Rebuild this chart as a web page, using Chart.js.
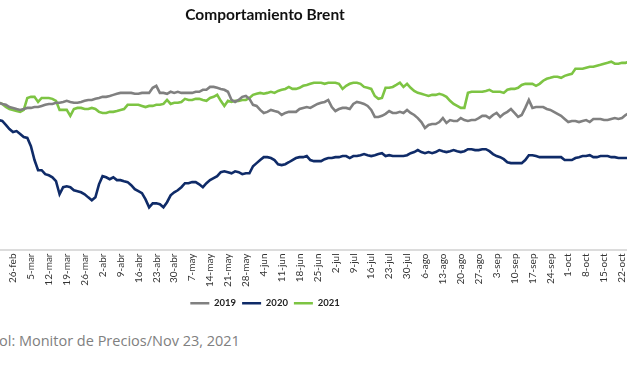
<!DOCTYPE html>
<html>
<head>
<meta charset="utf-8">
<script src="https://cdn.jsdelivr.net/npm/chart.js@4.4.0/dist/chart.umd.min.js"></script>
<style>
  html, body { margin: 0; padding: 0; background: #fff; overflow: hidden; }
  body { width: 627px; height: 376px; position: relative; }
  #wrap { position: absolute; left: -97px; top: 0; width: 724px; height: 318px; }
  #source { position: absolute; left: -1px; top: 331px; font-family: "Open Sans", sans-serif; font-size: 14.5px; color: #808080; white-space: nowrap; }
</style>
</head>
<body>
<div id="wrap"><canvas id="brentChart"></canvas></div>
<div id="source">ol: Monitor de Precios/Nov 23, 2021</div>
<script>
// Weekly tick labels (one every 5 business days)
const weekLabels = ['26-feb','5-mar','12-mar','19-mar','26-mar','2-abr','9-abr','16-abr','23-abr','30-abr',
  '7-may','14-may','21-may','28-may','4-jun','11-jun','18-jun','25-jun','2-jul','9-jul',
  '16-jul','23-jul','30-jul','6-ago','13-ago','20-ago','27-ago','3-sep','10-sep','17-sep',
  '24-sep','1-oct','8-oct','15-oct','22-oct'];

// first value sits 4 business days before 26-feb
const firstDay = -4;
const daysPerWeek = 5;

// Brent, USD/bbl, one value per business day
const brent2019 = [
  66.4,65.9,65.5,64.5,64.1,63.6,63.2,63.6,64.1,64.1,
  64.5,64.5,65.0,65.5,65.9,65.9,66.4,66.4,66.8,67.3,
  66.8,66.4,66.4,66.8,67.3,67.7,67.7,68.2,68.6,69.1,
  69.1,69.5,70.0,70.5,70.9,70.9,70.9,70.9,70.5,70.5,
  70.9,70.9,70.9,73.2,74.1,70.9,70.9,70.5,71.4,70.9,
  71.4,70.9,70.9,70.9,70.9,71.4,71.4,72.3,72.3,73.6,
  73.6,73.2,72.7,72.3,71.4,67.7,66.8,67.7,69.1,69.5,
  68.2,65.5,65.0,63.2,61.8,62.3,63.2,62.7,62.3,60.9,
  61.8,62.3,62.3,62.3,63.6,64.1,64.5,64.1,65.0,65.9,
  66.4,66.8,67.7,64.5,62.7,63.6,64.1,64.1,63.6,65.9,
  66.8,66.4,65.9,65.0,63.2,60.0,60.0,60.5,61.4,62.7,
  61.8,61.8,62.3,61.8,63.2,61.8,60.9,59.5,57.7,55.0,
  56.4,56.8,56.8,57.7,59.5,57.3,58.6,58.2,58.2,59.5,
  58.6,58.2,58.6,58.6,59.5,60.5,60.5,59.5,60.9,61.8,
  60.0,61.4,62.3,63.6,61.8,60.0,60.9,64.1,67.7,64.1,
  64.5,64.5,64.5,63.6,63.2,62.3,61.4,60.5,59.1,57.7,
  58.2,58.2,57.7,58.2,58.6,57.7,59.1,59.1,59.1,58.6,
  58.6,59.1,59.5,59.1,59.5,60.9,61.8
];
const brent2020 = [
  58.6,58.2,56.4,54.5,53.2,53.6,52.3,50.9,50.5,46.8,
  40.5,35.9,35.9,34.1,33.6,32.7,30.9,25.0,28.2,28.6,
  28.2,26.8,26.4,25.9,25.0,23.6,22.3,23.6,29.5,33.2,
  32.7,31.8,32.7,31.4,31.4,30.9,30.5,29.1,27.3,26.4,
  25.5,22.7,19.1,20.9,20.9,20.5,19.1,21.4,24.5,25.9,
  26.8,28.2,30.0,30.0,30.5,30.5,29.5,28.2,30.0,31.4,
  32.3,33.2,35.0,35.4,35.0,34.5,35.4,35.0,34.1,34.5,
  34.5,37.7,39.1,40.5,41.8,41.8,41.4,40.5,38.6,38.2,
  38.6,39.5,40.5,41.4,41.8,41.8,42.3,40.5,40.0,40.0,
  40.0,40.9,41.4,41.4,41.8,41.8,42.3,42.3,41.4,42.3,
  42.3,42.7,43.2,42.7,42.3,42.7,43.2,43.6,42.3,42.7,
  42.3,42.3,42.3,42.3,42.7,43.6,44.1,45.0,44.1,43.6,
  44.1,43.6,44.1,45.0,44.5,44.1,44.5,45.0,44.5,44.1,
  44.5,45.4,45.4,45.0,45.0,45.4,45.4,44.5,43.2,42.3,
  41.8,40.9,39.5,39.1,39.1,39.1,39.1,40.5,42.7,42.7,
  42.3,41.8,41.8,41.8,41.8,41.8,41.8,41.8,40.5,40.5,
  40.5,41.4,41.8,42.3,42.3,42.7,41.8,41.8,42.3,42.3,
  42.3,41.8,41.8,41.4,41.4,41.4,41.4
];
const brent2021 = [
  66.4,65.9,64.5,63.6,63.2,62.7,62.3,63.2,68.6,69.1,
  69.1,66.8,68.6,68.6,68.6,68.2,67.3,63.2,63.2,63.2,
  60.5,63.6,64.1,64.1,63.6,63.6,64.1,63.6,62.3,61.8,
  61.8,62.3,62.3,62.7,63.2,63.6,65.5,65.5,65.5,65.5,
  65.0,64.5,65.0,65.0,65.5,65.5,65.9,67.7,65.9,66.4,
  66.4,66.8,68.2,67.7,67.7,68.2,68.2,67.7,67.3,68.6,
  69.1,70.0,67.3,65.0,67.3,66.8,67.3,67.3,67.7,67.7,
  68.6,70.0,70.5,70.9,70.5,70.9,71.4,70.9,71.8,72.3,
  72.7,73.6,72.7,72.7,73.2,74.1,74.5,75.0,75.5,75.5,
  75.5,75.0,75.5,75.5,75.5,75.0,72.7,74.1,75.0,75.5,
  75.5,75.0,73.6,73.2,72.7,69.5,68.2,68.6,73.2,73.2,
  73.6,74.5,75.5,73.6,75.0,73.2,71.8,70.9,70.5,70.0,
  69.5,70.0,70.0,70.5,70.0,69.1,67.3,65.9,65.0,64.1,
  64.1,70.9,71.4,71.4,71.4,71.4,71.8,72.3,71.4,71.4,
  71.4,70.9,72.3,72.7,72.7,73.2,74.5,75.0,75.0,75.0,
  74.1,75.0,76.4,77.3,77.7,78.2,78.2,77.7,78.6,79.1,
  79.5,81.8,81.8,81.8,82.3,82.7,82.7,83.2,83.6,84.1,
  84.5,85.0,84.1,84.1,84.5,84.5,85.0
];

const seriesNames = ['2019', '2020', '2021'];
const seriesColors = ['#808080', '#0f2b68', '#7dc443'];

function toPoints(values) {
  return values.map(function(v, i) { return { x: firstDay + i, y: v }; });
}

const ctx = document.getElementById('brentChart');

new Chart(ctx, {
  type: 'line',
  data: {
    datasets: [brent2019, brent2020, brent2021].map(function(values, i) {
      return {
        label: seriesNames[i],
        data: toPoints(values),
        borderColor: seriesColors[i],
        backgroundColor: seriesColors[i],
        borderWidth: 2.6,
        pointRadius: 0,
        tension: 0,
        fill: false
      };
    })
  },
  options: {
    responsive: true,
    maintainAspectRatio: false,
    animation: false,
    layout: { padding: 0 },
    plugins: {
      title: {
        display: true,
        text: 'Comportamiento Brent',
        color: '#111',
        font: { family: 'Lato', size: 15.5, weight: 'bold' },
        padding: { top: 6, bottom: 4 }
      },
      legend: {
        position: 'bottom',
        labels: {
          usePointStyle: true,
          pointStyle: 'line',
          pointStyleWidth: 19,
          color: '#222',
          font: { family: 'Lato', size: 9.5, weight: 'bold' },
          padding: 6
        }
      },
      tooltip: { enabled: false }
    },
    scales: {
      x: {
        type: 'linear',
        min: -3.63,
        max: 171.4,
        grid: { display: false, drawTicks: false },
        border: { display: true, color: '#dcdcdc', width: 2 },
        afterBuildTicks: function(scale) {
          scale.ticks = weekLabels.map(function(l, i) { return { value: i * daysPerWeek }; });
        },
        afterFit: function(scale) {
          scale.height = 43;
          scale.paddingLeft = 0;
          scale.paddingRight = 0;
        },
        ticks: {
          autoSkip: false,
          minRotation: 90,
          maxRotation: 90,
          padding: 4,
          color: '#333',
          font: { family: 'Lato', size: 10 },
          callback: function(value) {
            return weekLabels[Math.round(value / daysPerWeek)];
          }
        }
      },
      y: {
        min: 0,
        max: 100,
        grid: { display: false, drawTicks: false },
        border: { display: false },
        ticks: { display: false },
        // left part of the chart lies outside the cropped view
        afterFit: function(scale) { scale.width = 97; }
      }
    }
  }
});
</script>
</body>
</html>
